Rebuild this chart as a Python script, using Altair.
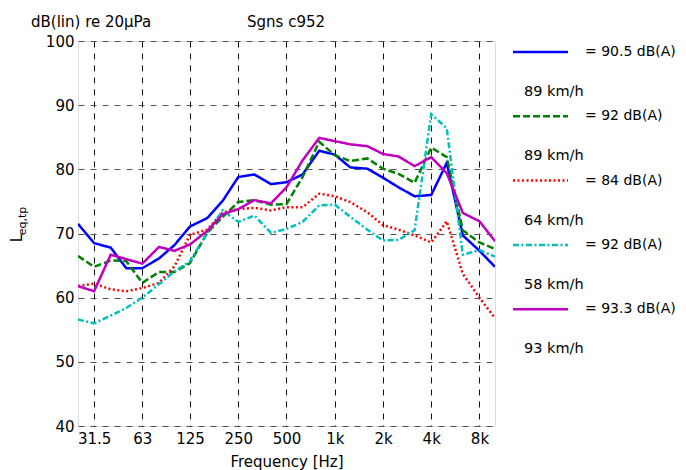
import altair as alt
import pandas as pd

# Third-octave band centre frequencies (Hz)
freqs = [25, 31.5, 40, 50, 63, 80, 100, 125, 160, 200, 250, 315, 400, 500,
         630, 800, 1000, 1250, 1600, 2000, 2500, 3150, 4000, 5000, 6300, 8000, 10000]

# L_eq,tp per band, dB(lin) re 20 uPa
blue = [71.5, 68.5, 67.8, 64.6, 64.6, 66.1, 68.2, 71.1, 72.4, 75.1, 78.8, 79.2, 77.7, 78.0,
        79.2, 82.9, 82.3, 80.3, 80.1, 78.7, 77.2, 75.8, 76.0, 81.0, 69.7, 67.3, 64.8]
green = [66.5, 64.8, 65.8, 65.7, 62.3, 64.0, 64.0, 65.4, 70.1, 72.6, 74.9, 75.2, 74.5, 74.6,
         78.8, 84.3, 82.2, 81.3, 81.7, 80.1, 79.3, 77.9, 83.4, 81.9, 70.5, 68.6, 67.6]
red = [61.8, 62.2, 61.3, 61.0, 61.5, 62.3, 64.9, 69.8, 70.6, 73.3, 73.8, 74.0, 73.6, 74.1,
       74.1, 76.2, 75.8, 74.9, 73.3, 71.3, 70.6, 69.7, 68.6, 71.9, 63.7, 60.0, 56.8]
cyan = [56.6, 56.0, 57.2, 58.4, 60.0, 62.1, 64.1, 65.7, 70.1, 73.6, 71.8, 72.8, 70.1, 70.7,
        71.8, 74.4, 74.5, 72.6, 70.6, 68.9, 69.0, 70.5, 88.6, 86.4, 66.7, 67.4, 66.4]
magenta = [61.8, 61.0, 66.7, 66.0, 65.3, 67.9, 67.3, 68.3, 70.4, 73.0, 73.8, 75.2, 74.7, 77.2,
           81.4, 84.9, 84.4, 83.9, 83.6, 82.4, 82.0, 80.5, 81.9, 79.4, 73.2, 71.9, 68.8]

series_names = ["1: = 90.5 dB(A), 89 km/h", "2: = 92 dB(A), 89 km/h", "3: = 84 dB(A), 64 km/h",
                "4: = 92 dB(A), 58 km/h", "5: = 93.3 dB(A), 93 km/h"]
legend_level = ["= 90.5 dB(A)", "= 92 dB(A)", "= 84 dB(A)", "= 92 dB(A)", "= 93.3 dB(A)"]
legend_speed = ["89 km/h", "89 km/h", "64 km/h", "58 km/h", "93 km/h"]
colors = ["#0000FF", "#007F00", "#FF0000", "#00BFBF", "#BF00BF"]
dashes = [[1, 0], [7, 3], [2, 2.5], [6, 2.5, 2, 2.5], [1, 0]]

x_ticks = [31.5, 63, 125, 250, 500, 1000, 2000, 4000, 8000]
y_ticks = [40, 50, 60, 70, 80, 90, 100]

rows = []
for name, vals in zip(series_names, [blue, green, red, cyan, magenta]):
    for f, v in zip(freqs, vals):
        rows.append({"series": name, "freq": f, "level": v})
df = pd.DataFrame(rows)

FONT = "DejaVu Sans"
FS = 15
W, H = 417, 385

lines = alt.Chart(df).mark_line(strokeWidth=2.5, clip=True).encode(
    x=alt.X("freq:Q",
            scale=alt.Scale(type="log", domain=[25, 10000], nice=False),
            axis=alt.Axis(values=x_ticks,
                          labelExpr="datum.value >= 1000 ? (datum.value/1000) + 'k' : '' + datum.value",
                          title="Frequency [Hz]", grid=True, gridDash=[6, 6], gridColor="#111",
                          gridOpacity=1, ticks=False, domain=False, labelFontSize=FS,
                          titleFontSize=FS, titleFontWeight="normal", labelPadding=5,
                          titlePadding=8, labelFlush=False, labelColor="black",
                          titleColor="black", labelFont=FONT, titleFont=FONT)),
    y=alt.Y("level:Q",
            scale=alt.Scale(domain=[40, 100], nice=False, zero=False),
            axis=alt.Axis(values=y_ticks, title=None, grid=True, gridDash=[6, 6],
                          gridColor="#555", gridOpacity=1, ticks=False, domain=False,
                          labelFontSize=FS, labelPadding=4, labelColor="black",
                          labelFont=FONT)),
    color=alt.Color("series:N", scale=alt.Scale(domain=series_names, range=colors), legend=None),
    strokeDash=alt.StrokeDash("series:N", scale=alt.Scale(domain=series_names, range=dashes),
                              legend=None),
    order=alt.Order("freq:Q"),
)

one = alt.Data(values=[{}])
layers = [lines]


def txt(s, x, y, size=FS, align="left", angle=0):
    return alt.Chart(one).mark_text(text=s, fontSize=size, align=align, baseline="middle",
                                    font=FONT, color="black", angle=angle).encode(
        x=alt.value(x), y=alt.value(y))


layers.append(txt("dB(lin) re 20μPa", -47, -19))
layers.append(txt("Sgns c952", 208, -19, align="center"))
layers.append(txt("L", -61, 197, size=FS, align="center", angle=270))
layers.append(txt("eq,tp", -55, 180, size=11, align="center", angle=270))

for i in range(5):
    ly = 11 + 64.3 * i
    layers.append(alt.Chart(one).mark_rule(color=colors[i], strokeDash=dashes[i],
                                           strokeWidth=2.5).encode(
        x=alt.value(435), x2=alt.value(490), y=alt.value(ly)))
    layers.append(txt(legend_level[i], 507, ly, size=14))
    layers.append(txt(legend_speed[i], 446, ly + 40, size=14.5))

chart = alt.layer(*layers).properties(
    width=W, height=H,
    autosize=alt.AutoSizeParams(type="none"),
    padding={"left": 70, "top": 33, "right": 183, "bottom": 46},
).configure_view(stroke="black", strokeWidth=2).configure(font=FONT)

chart.save("out.html", embed_options={"renderer": "svg", "actions": False})
